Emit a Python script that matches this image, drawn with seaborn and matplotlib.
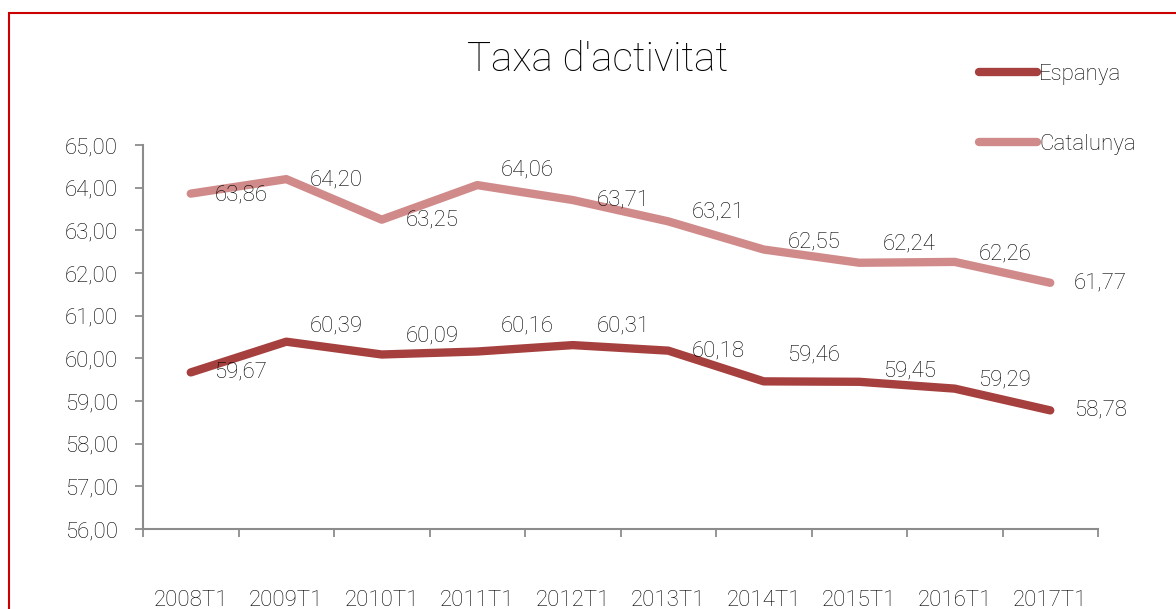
import pandas as pd
import matplotlib.pyplot as plt
import seaborn as sns
from matplotlib.patches import Rectangle
from matplotlib.ticker import FixedLocator, FuncFormatter

sns.set_theme(style="white")
plt.rcParams['font.family'] = ['Roboto', 'DejaVu Sans']
plt.rcParams['font.weight'] = 'light'

# Data
periods = ['2008T1', '2009T1', '2010T1', '2011T1', '2012T1',
           '2013T1', '2014T1', '2015T1', '2016T1', '2017T1']
espanya = [59.67, 60.39, 60.09, 60.16, 60.31, 60.18, 59.46, 59.45, 59.29, 58.78]
catalunya = [63.86, 64.20, 63.25, 64.06, 63.71, 63.21, 62.55, 62.24, 62.26, 61.77]
series_names = ['Espanya', 'Catalunya']

# vertical nudges (px, upwards) of the data labels as placed in the original
label_lift = {
    'Espanya': [0, 16, 19, 26, 19, 0, 26, 11, 9, 0],
    'Catalunya': [-1, -1, 0, 15, 0, 9, 8, 19, 8, 0],
}

df = pd.DataFrame({'Periode': periods, 'Espanya': espanya, 'Catalunya': catalunya})
df['pos'] = range(len(periods))
df_long = df.melt(id_vars=['Periode', 'pos'], value_vars=series_names,
                  var_name='Serie', value_name='Taxa')

palette = {'Espanya': '#A5403E', 'Catalunya': '#D08A8A'}
axis_grey = '#8C8C8C'
text_col = '#000000'

fig = plt.figure(figsize=(11.76, 6.09), dpi=100)
ax = fig.add_axes([143 / 1176, 1 - 529 / 609, (1098 - 143) / 1176, (529 - 145) / 609])

sns.lineplot(data=df_long, x='pos', y='Taxa', hue='Serie', palette=palette,
             linewidth=6, ax=ax, solid_capstyle='round', solid_joinstyle='round')

# data labels to the right of each point
for name in series_names:
    sub = df_long[df_long['Serie'] == name]
    for (x, y), lift in zip(zip(sub['pos'], sub['Taxa']), label_lift[name]):
        ax.annotate(f"{y:.2f}".replace('.', ','), (x, y), xytext=(17, lift * 0.72),
                    textcoords='offset points', ha='left', va='center',
                    fontsize=16, color=text_col)

ax.set_xlim(-0.5, len(periods) - 0.5)
ax.set_ylim(56, 65)
ax.set_yticks([56 + i for i in range(10)])
ax.yaxis.set_major_formatter(FuncFormatter(lambda v, p: f"{v:.2f}".replace('.', ',')))
ax.set_xticks(range(len(periods)))
ax.set_xticklabels(periods)
ax.xaxis.set_minor_locator(FixedLocator([i - 0.5 for i in range(len(periods) + 1)]))
ax.tick_params(axis='x', which='major', bottom=True, length=0, pad=44,
               labelsize=16, colors=text_col)
ax.tick_params(axis='x', which='minor', bottom=True, length=6, width=1.3, color=axis_grey)
ax.tick_params(axis='y', left=True, length=6, width=1.3, color=axis_grey, pad=12,
               labelsize=16, labelcolor=text_col)
ax.set_xlabel('')
ax.set_ylabel('')
for side in ['top', 'right']:
    ax.spines[side].set_visible(False)
for side in ['left', 'bottom']:
    ax.spines[side].set_color(axis_grey)
    ax.spines[side].set_linewidth(1.5)

handles, labels = ax.get_legend_handles_labels()
ax.get_legend().remove()
fig.legend(handles, labels, loc='upper left', bbox_to_anchor=(970 / 1176, 1 - 55 / 609),
           frameon=False, fontsize=16, handlelength=2.6, handletextpad=0.1,
           labelspacing=2.2, borderaxespad=0, labelcolor=text_col)

fig.text(598 / 1176, 1 - 60 / 609, "Taxa d'activitat", ha='center', va='center',
         fontsize=29, color='#000000')

# red chart frame
fig.patches.append(Rectangle((9 / 1176, -0.2), 1.2, 1 - 13 / 609 + 0.2,
                             transform=fig.transFigure, fill=False,
                             edgecolor='#CC0000', linewidth=1.5))

fig.savefig('out.png', dpi=100)
